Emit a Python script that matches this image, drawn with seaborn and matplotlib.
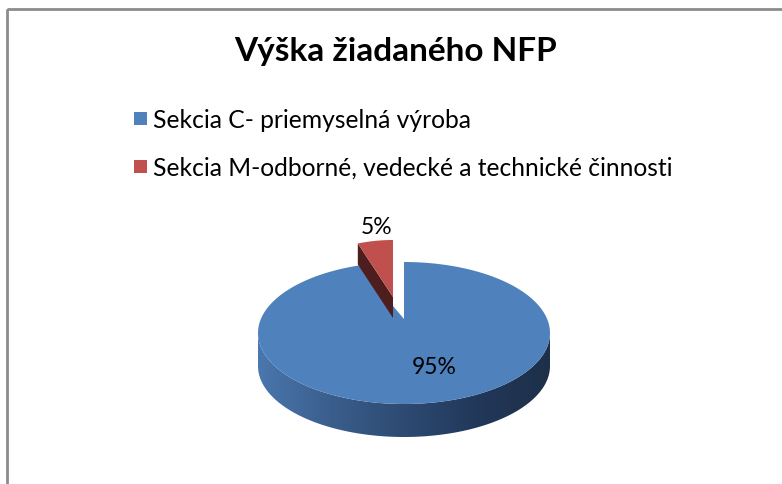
import numpy as np
import matplotlib
matplotlib.use("Agg")
import matplotlib.pyplot as plt
from matplotlib.patches import Polygon, Rectangle
from matplotlib.colors import LinearSegmentedColormap
import seaborn as sns

title = "Výška žiadaného NFP"
categories = ["Sekcia C- priemyselná výroba",
              "Sekcia M-odborné, vedecké a technické činnosti"]
shares = [95, 5]
pct_labels = ["95%", "5%"]
colors = ["#4F81BD", "#C0504D"]

sns.set_theme(style="white")
plt.rcParams["font.family"] = ["Lato", "DejaVu Sans"]

fig = plt.figure(figsize=(7.82, 4.85), dpi=100)
ax = fig.add_axes([0, 0, 1, 1])
ax.set_xlim(0, 782)
ax.set_ylim(485, 0)
ax.axis("off")

# chart frame (runs off the right and bottom edge)
ax.add_patch(Rectangle((7, 10), 800, 500, fill=False, edgecolor="#8c8c8c", lw=2))

# pie geometry in pixels
cx, cy = 404, 334
rx, ry = 146, 71
depth = 33
pivot = (404, 320)


def pt(theta, dx=0, dy=0, sx=1.0):
    t = np.radians(theta)
    return pivot[0] + sx * (cx + rx * np.sin(t) - pivot[0]) + dx, cy - ry * np.cos(t) + dy


total = sum(shares)
starts = np.cumsum([0] + shares[:-1]) / total * 360
spans = np.array(shares) / total * 360

# blue slice: side wall with gradient
a0, a1 = starts[0], starts[0] + spans[0]
th = np.linspace(90, 270, 200)
top = np.array([pt(t) for t in th])
bot = top + [0, depth]
side = Polygon(np.vstack([top, bot[::-1]]), closed=True, facecolor="none", edgecolor="none")
ax.add_patch(side)
cmap = LinearSegmentedColormap.from_list(
    "side", ["#4a77ae", "#3a5e8c", "#2d4a72", "#22385a", "#1e3049"])
grad = np.linspace(0, 1, 256).reshape(1, -1)
im = ax.imshow(grad, cmap=cmap, extent=[cx - rx, cx + rx, cy + ry + depth + 2, cy - 5],
               aspect="auto", zorder=2)
im.set_clip_path(side)

# blue top face
th = np.linspace(a0, a1, 300)
face = np.vstack([[pivot], [pt(t) for t in th]])
ax.add_patch(Polygon(face, closed=True, facecolor=colors[0], edgecolor="none", zorder=3))

# exploded red slice (narrowed a bit for the perspective at the back)
off = (-11, -22)
sx = 0.78
rdepth = 21
b0, b1 = starts[1], starts[1] + spans[1]
p_apex = (pivot[0] + off[0], pivot[1] + off[1])
left_c = pt(b0, *off, sx=sx)
wall = [left_c, p_apex, (p_apex[0], p_apex[1] + rdepth), (left_c[0], left_c[1] + rdepth)]
ax.add_patch(Polygon(wall, closed=True, facecolor="#4e1e1e", edgecolor="none", zorder=4))
th = np.linspace(b0, b1, 40)
rface = np.vstack([[p_apex], [pt(t, *off, sx=sx) for t in th]])
ax.add_patch(Polygon(rface, closed=True, facecolor=colors[1], edgecolor="none", zorder=5))

# percentage labels
ax.text(434, 368, pct_labels[0], ha="center", va="center", fontsize=16.5, color="black", zorder=6)
ax.text(377, 228, pct_labels[1], ha="center", va="center", fontsize=16.5, color="black", zorder=6)

# title
ax.text(396, 52, title, ha="center", va="center", fontsize=24, fontweight="bold", color="black")

# legend
for i, (lab, c) in enumerate(zip(categories, colors)):
    y = 120 + i * 48
    ax.add_patch(Rectangle((134, y - 7), 13, 13, facecolor=c, edgecolor="none"))
    ax.text(153, y, lab, ha="left", va="center", fontsize=17.7, color="black")

fig.savefig("out.png", dpi=100)
plt.close(fig)
